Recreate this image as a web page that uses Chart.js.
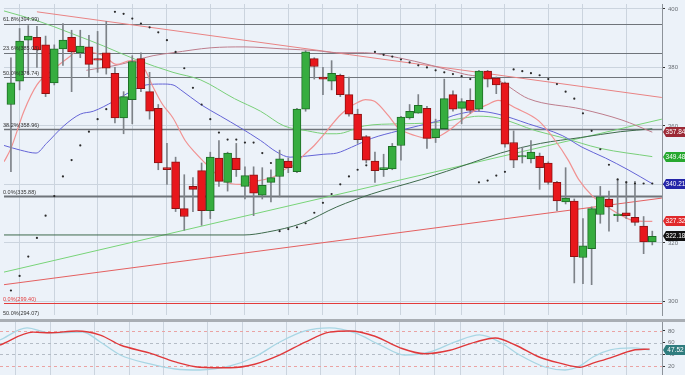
<!DOCTYPE html>
<html><head><meta charset="utf-8">
<script src="https://cdn.jsdelivr.net/npm/chart.js@4.4.1/dist/chart.umd.min.js"></script>
<style>
html,body{margin:0;padding:0;background:#ecf2f9;width:685px;height:375px;overflow:hidden}
#main{position:absolute;left:0;top:0;width:685px;height:319px}
#sep{position:absolute;left:0;top:319px;width:685px;height:3px;background:#a9aeb4}
#osc{position:absolute;left:0;top:322px;width:685px;height:53px}
canvas{display:block}
</style></head><body>
<div id="main"><canvas id="c1" width="685" height="319"></canvas></div>
<div id="sep"></div>
<div id="osc"><canvas id="c2" width="685" height="53"></canvas></div>
<script>
// ---- candle data (index = trading day) ----
const opens = [367.3,375.3,389.3,390.3,387.7,374.7,386.3,390.3,385.0,387.0,
  383.0,385.0,378.0,362.7,369.0,383.0,371.7,366.0,345.7,347.7,
  331.7,339.3,344.7,331.0,349.0,340.7,349.0,339.3,343.3,336.3,
  340.7,342.7,348.0,344.3,365.7,383.0,376.7,375.3,377.3,370.7,
  364.0,356.3,348.0,345.0,345.3,353.3,362.7,364.3,366.0,356.0,
  359.0,370.7,366.0,368.7,365.7,378.7,376.3,374.7,354.3,349.4,
  348.7,349.7,347.3,340.7,334.0,334.3,315.0,318.0,329.7,335.0,
  329.3,330.3,328.7,325.7,320.3];
const highs = [383.3,393.3,394.3,394.0,390.7,387.7,395.0,392.7,392.7,391.0,
  392.3,395.7,380.0,371.7,384.0,385.0,378.3,367.3,354.0,349.3,
  343.3,342.3,347.3,351.0,355.0,351.0,354.0,346.0,346.0,345.7,
  345.0,351.7,349.0,366.0,385.7,383.3,380.0,382.3,377.7,376.7,
  365.7,356.7,351.0,350.3,354.0,363.3,367.3,370.7,366.7,362.3,
  376.0,372.0,369.3,372.7,379.0,379.0,376.7,375.0,358.3,352.7,
  355.0,350.7,347.7,341.0,345.7,335.0,328.3,332.3,339.3,337.7,
  341.7,341.0,341.0,329.0,324.0];
const lows = [344.3,372.3,377.7,380.0,370.0,374.0,380.7,371.7,383.3,376.7,
  378.3,377.7,361.0,357.3,360.7,371.7,362.3,345.0,340.0,330.7,
  324.3,330.7,326.0,328.3,339.3,337.7,342.7,335.0,329.3,335.0,
  334.0,335.7,344.0,344.0,365.0,376.0,370.7,372.3,370.0,363.3,
  354.0,347.3,340.7,342.7,345.0,348.3,362.3,364.3,352.3,354.3,
  359.0,365.0,360.7,364.3,365.0,373.3,371.0,352.7,345.7,347.3,
  347.3,338.3,340.0,331.0,333.3,306.3,306.0,305.7,326.7,324.0,
  327.3,328.3,326.0,316.3,319.3];
const closes = [374.7,389.0,390.7,386.0,371.0,386.3,389.3,385.3,387.3,381.0,
  382.5,379.7,362.7,370.0,382.0,372.7,365.0,347.3,345.0,331.7,
  329.0,338.3,331.0,349.3,341.0,350.7,345.0,343.0,337.0,339.7,
  342.3,348.7,345.7,365.7,385.3,380.3,376.0,378.0,370.7,364.0,
  355.3,348.3,344.7,345.7,353.0,363.0,365.0,367.0,355.7,359.0,
  369.3,365.7,368.3,365.3,378.7,376.0,374.0,353.7,348.3,349.8,
  351.0,345.7,340.7,334.3,335.3,315.3,319.0,331.7,335.7,332.3,
  329.8,329.3,327.0,320.3,322.2];

// ---- parabolic SAR (null = not shown) ----
const sar = [303.7,308.7,315.3,321.7,329.3,336.0,342.7,348.3,353.3,358.0,
  362.3,365.7,399.0,398.3,396.7,395.0,393.7,392.0,389.3,385.3,
  379.7,373.0,367.3,362.3,357.7,355.3,355.3,354.3,354.3,350.7,
  347.3,324.0,324.7,325.3,326.7,330.3,333.7,336.7,340.0,342.7,
  345.0,346.5,385.3,384.3,383.7,382.7,381.7,380.7,380.0,379.0,
  378.3,377.7,377.0,376.0,340.7,341.3,343.0,344.3,379.3,378.7,
  378.0,377.3,376.0,374.3,371.7,369.3,364.3,358.3,352.0,346.7,
  341.7,340.7,340.3,340.3,340.3];

// ---- moving averages: [day index, price] ----
const maFast = [[-0.8,347.7],[0,352.3],[1.5,365.0],[3,374.0],[4.9,379.3],[6.9,384.0],[8,386.7],[9.2,385.3],[10.7,384.0],[12.2,381.0],[13.8,382.3],[15.3,380.0],[16.4,373.3],[17.5,367.3],[18.7,362.7],[20.1,355.0],[21.2,351.0],[22.4,347.3],[23.5,344.0],[24.7,341.0],[26.4,340.0],[28.1,341.0],[30.4,342.7],[31.5,345.0],[32.7,346.7],[33.8,350.0],[35,353.3],[36,356.7],[37,360.3],[38,363.7],[39,366.3],[40,368.0],[40.9,369.0],[42,368.3],[43.6,363.3],[44.7,359.3],[46.6,356.7],[48.2,355.7],[49.3,356.3],[50.8,359.0],[51.9,361.7],[53.4,365.0],[55,367.3],[56.2,368.7],[58.3,366.0],[60.9,361.7],[62.8,355.0],[64.3,348.3],[65.5,341.7],[67.1,336.0],[68.6,332.7],[70.5,329.3],[72,327.5],[74,327.32]];
const maMid = [[-0.8,353.3],[1.1,351.7],[2.9,350.7],[4.1,354.0],[6.1,360.0],[8,364.0],[9.5,365.0],[11.8,368.3],[13.8,371.7],[15.6,374.0],[17.5,374.3],[18.7,374.0],[19.6,372.3],[21.9,367.3],[24.2,363.3],[26.5,359.3],[28.8,355.0],[30.7,351.0],[32.2,349.3],[34.2,349.7],[36.1,350.3],[37.6,350.7],[39.3,352.7],[41.6,355.7],[44.7,358.3],[47,360.0],[49.3,361.7],[51.6,364.0],[53.9,365.0],[56.2,364.0],[59.7,360.7],[63.6,356.7],[65.9,352.7],[68.6,349.0],[71.2,345.0],[74,340.21]];
const maSlow = [[-0.8,399.3],[3,396.0],[6.9,391.7],[10.7,387.3],[14.4,382.7],[18.7,378.3],[21.9,375.7],[25.8,369.3],[28.8,365.0],[31.5,360.0],[34.2,358.3],[36.5,357.3],[37.6,357.3],[40.8,360.0],[44.7,360.7],[48.5,361.0],[52.3,362.7],[53.9,363.3],[56.2,362.7],[60.6,358.3],[63.6,356.0],[68,352.3],[74,349.48]];
const maLong = [[8.7,379.0],[12.6,381.0],[16.4,384.0],[18.7,385.0],[23.1,386.7],[26.9,387.0],[31.5,386.3],[35.3,385.7],[37.6,385.0],[40.8,385.0],[44.7,383.3],[48.5,380.7],[52.3,377.7],[56.2,375.5],[59.7,369.3],[65.9,365.7],[70.5,362.0],[74,357.84]];
const maVeryLong = [[-0.8,322.7],[26.9,322.7],[29.6,323.7],[33.6,326.7],[37.6,332.3],[41.6,336.7],[47.4,341.7],[53.1,347.3],[56.5,350.7],[61.1,354.0],[65.7,356.0],[70.3,358.0],[74,359.0]];

// ---- trend lines: [day index, price] ----
const trendDown = [[3,399.0],[75.1,369.7]];
const trendUpRed = [[-0.8,305.7],[75.1,335.3]];
const trendUpGreen = [[-0.8,310.0],[75.1,362.3]];

// ---- horizontal levels ----
const fibLevels = [394.99,385.03,376.74,358.96,335.88,299.40,294.07];
const fibTexts = ['61.8%(394.99)','23.6%(385.03)','50.0%(376.74)','38.2%(358.96)','0.0%(335.88)','0.0%(299.40)','50.0%(294.07)'];

// ---- axis ticks / grid days ----
const priceTicks = [300,320,340,360,380,400];
const gridDays = [1,5,10,14,18,23,27,32,36,40,45,49,52,57,62,66,71];
const oscTicks = [20,40,60,80];

// ---- last-value labels ----
const lastValues = [357.84,349.48,340.21,327.32,322.18];
const lastTexts = ['357.84','349.48','340.21','327.32','322.18'];

// ---- stochastic oscillator: [day index, value] ----
const stochK = [[-0.8,64.6],[2.3,85.2],[4.9,76.6],[8.7,78.3],[10.7,61.2],[13,38.9],[16.4,23.5],[19.3,14.9],[22.1,13.2],[25.6,20.1],[28.4,35.5],[31.3,61.2],[34.2,80],[37,85.2],[39.9,76.6],[42.8,56],[45.6,38.9],[48.5,44],[51.4,61.2],[54.2,73.2],[56.5,61.2],[58.8,38.9],[61.7,18.3],[64,13.2],[65.7,20.1],[67.2,35.5],[69.2,47.5],[71.8,50.9],[73.7,47.5]];
const stochD = [[-0.8,56],[3,78],[4.9,77],[8,80],[10.7,73],[13,56],[16.4,42],[19.3,27],[22.1,18],[25.6,17],[28.4,23],[31.3,39],[34.2,61],[37,78],[39.3,80],[42.2,71],[45.1,51],[47.9,41],[50.8,47],[53.7,61],[56,68],[58.3,56],[61.1,35],[63.4,25],[65.7,18],[67.2,25],[69.2,34],[71.8,47],[73.7,49]];
const stochLast = 47.52;
const stochLevels = [80,60,40,20];

// ---------------------------------------------------------------
const X_MIN = -0.8, X_MAX = 75.12;
const FONT = '"Liberation Sans", Arial, sans-serif';
const pts = a => a.map(p => ({x: p[0], y: p[1]}));
const isUp = i => closes[i] >= opens[i];

function xScale() {
  return {
    type: 'linear', min: X_MIN, max: X_MAX, offset: false,
    afterBuildTicks: s => { s.ticks = gridDays.map(v => ({value: v})); },
    afterFit: s => { s.height = 0; s.paddingLeft = 0; s.paddingRight = 0; },
    ticks: {display: false},
    grid: {color: '#cbd4de', lineWidth: 1, drawTicks: false, offset: false},
    border: {display: false}
  };
}
function lineDs(data, color, width, order) {
  return {type: 'line', data: pts(data), borderColor: color, borderWidth: width,
    pointRadius: 0, cubicInterpolationMode: 'monotone', fill: false, order: order};
}
function drawTag(ctx, x, y, w, h, bg, txt) {
  ctx.fillStyle = bg;
  ctx.beginPath();
  ctx.moveTo(x, y);
  ctx.lineTo(x + 3, y - h / 2);
  ctx.lineTo(x + w, y - h / 2);
  ctx.lineTo(x + w, y + h / 2);
  ctx.lineTo(x + 3, y + h / 2);
  ctx.closePath();
  ctx.fill();
  ctx.fillStyle = '#ffffff';
  ctx.font = '6.5px ' + FONT;
  ctx.textAlign = 'center';
  ctx.textBaseline = 'middle';
  ctx.fillText(txt, x + w / 2 + 1.5, y + 0.5);
}

const fibColors = ['#6f747a','#6f747a','#6f747a','#6f747a','#6f747a','#e23b3b','#6f747a'];
const fibWidths = [1,1,1,1.5,2,1,1];
const fibTextColors = ['#333','#333','#333','#333','#333','#e23b3b','#333'];
const tagColors = ['#9c2a36','#27a82f','#2424a8','#e0292b','#111111'];

const mainOverlay = {
  id: 'mainOverlay',
  beforeDatasetsDraw(chart) {
    const {ctx, chartArea: a, scales: {y}} = chart;
    ctx.save();
    fibLevels.forEach((lv, k) => {
      const py = Math.round(y.getPixelForValue(lv)) + 0.5;
      if (py > a.bottom) return;
      ctx.strokeStyle = fibColors[k];
      ctx.lineWidth = fibWidths[k];
      ctx.beginPath(); ctx.moveTo(a.left, py); ctx.lineTo(a.right, py); ctx.stroke();
    });
    ctx.restore();
  },
  afterDatasetsDraw(chart) {
    const {ctx, chartArea: a, scales: {y}} = chart;
    ctx.save();
    ctx.font = '5.5px ' + FONT;
    ctx.textAlign = 'left';
    ctx.textBaseline = 'bottom';
    fibLevels.forEach((lv, k) => {
      const raw = y.getPixelForValue(lv);
      const py = raw > a.bottom ? a.bottom + 2 : raw;
      ctx.fillStyle = fibTextColors[k];
      ctx.fillText(fibTexts[k], 3, py - 1);
    });
    ctx.restore();
  },
  afterDraw(chart) {
    const {ctx, chartArea: a, scales: {y}} = chart;
    ctx.save();
    lastValues.forEach((v, k) => {
      drawTag(ctx, a.right + 1, Math.round(y.getPixelForValue(v)), 22, 10, tagColors[k], lastTexts[k]);
    });
    ctx.restore();
  }
};

const bodyBorder = i => isUp(i) ? '#1d6e25' : '#8c1212';
const bodyFill = i => isUp(i) ? '#36ad3f' : '#e8171c';

new Chart(document.getElementById('c1'), {
  type: 'bar',
  data: {
    datasets: [
      {type: 'bar', data: highs.map((h, i) => ({x: i, y: [lows[i], h]})), backgroundColor: '#7d8288',
        borderWidth: 0, barThickness: 1, grouped: false, order: 2},
      {type: 'bar', data: opens.map((o, i) => ({x: i, y: [o, closes[i]]})),
        backgroundColor: c => bodyFill(c.dataIndex), borderColor: c => bodyBorder(c.dataIndex),
        borderWidth: 1, borderSkipped: false, barThickness: 8, grouped: false, order: 1},
      {type: 'line', data: sar.map((v, i) => v == null ? null : {x: i, y: v}).filter(p => p),
        showLine: false, pointRadius: 1.1, pointBackgroundColor: '#2a2a2a', pointBorderWidth: 0, order: 0},
      lineDs(trendDown, '#e98383', 1, 10),
      lineDs(trendUpRed, '#e46060', 1, 10),
      lineDs(trendUpGreen, '#78d478', 1, 10),
      lineDs(maVeryLong, '#3e6a4c', 1, 9),
      lineDs(maLong, '#bd7d8c', 1, 8),
      lineDs(maSlow, '#79cf79', 1, 7),
      lineDs(maMid, '#6464d6', 1, 6),
      lineDs(maFast, '#f19292', 1.2, 5)
    ]
  },
  options: {
    responsive: false, animation: false, events: [],
    layout: {padding: 0},
    plugins: {legend: {display: false}, tooltip: {enabled: false}},
    scales: {
      x: xScale(),
      y: {
        position: 'right', min: 295.33, max: 401.67,
        afterBuildTicks: s => { s.ticks = priceTicks.map(v => ({value: v})); },
        afterFit: s => { s.width = 23; s.paddingTop = 0; s.paddingBottom = 0; },
        ticks: {font: {size: 6, family: FONT}, color: '#6a6f75', padding: 3},
        grid: {color: '#cbd4de', tickLength: 3, tickColor: '#333', drawTicks: true},
        border: {color: '#8d939a'}
      }
    }
  },
  plugins: [mainOverlay]
});

const oscOverlay = {
  id: 'oscOverlay',
  beforeDatasetsDraw(chart) {
    const {ctx, chartArea: a, scales: {y}} = chart;
    ctx.save();
    ctx.setLineDash([3, 3]);
    stochLevels.forEach(lv => {
      const py = Math.round(y.getPixelForValue(lv)) + 0.5;
      ctx.strokeStyle = (lv === 80 || lv === 20) ? '#eaa3a3' : '#b4bcc6';
      ctx.lineWidth = 1;
      ctx.beginPath(); ctx.moveTo(a.left, py); ctx.lineTo(a.right, py); ctx.stroke();
    });
    ctx.restore();
  },
  afterDraw(chart) {
    const {ctx, chartArea: a, scales: {y}} = chart;
    ctx.save();
    drawTag(ctx, a.right + 1, Math.round(y.getPixelForValue(stochLast)), 22, 10, '#2f7c7e', stochLast.toFixed(2));
    ctx.restore();
  }
};

new Chart(document.getElementById('c2'), {
  type: 'line',
  data: {
    datasets: [
      lineDs(stochK, '#a8d6e4', 1.3, 2),
      lineDs(stochD, '#e0383a', 1.4, 1)
    ]
  },
  options: {
    responsive: false, animation: false, events: [],
    layout: {padding: 0},
    plugins: {legend: {display: false}, tooltip: {enabled: false}},
    scales: {
      x: xScale(),
      y: {
        position: 'right', min: 4.6, max: 95.4,
        afterBuildTicks: s => { s.ticks = oscTicks.map(v => ({value: v})); },
        afterFit: s => { s.width = 23; s.paddingTop = 0; s.paddingBottom = 0; },
        ticks: {font: {size: 6, family: FONT}, color: '#6a6f75', padding: 3},
        grid: {drawOnChartArea: false, tickLength: 3, tickColor: '#333', drawTicks: true},
        border: {color: '#8d939a'}
      }
    }
  },
  plugins: [oscOverlay]
});
</script>
</body></html>
